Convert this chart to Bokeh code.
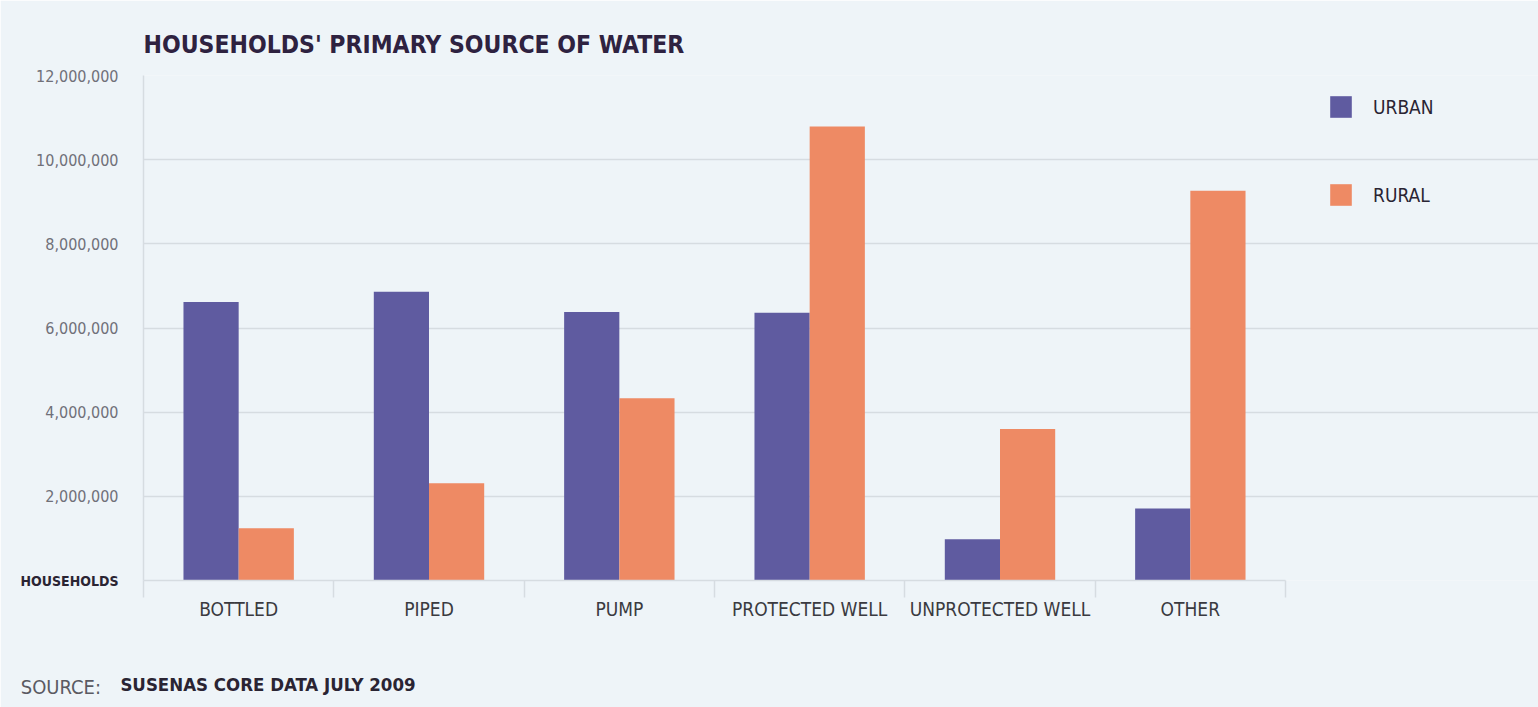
from bokeh.plotting import figure
from bokeh.models import (FixedTicker, NumeralTickFormatter, Legend, LegendItem, LinearAxis,
                          ColumnDataSource, Range1d)
from bokeh.embed import file_html
from bokeh.resources import INLINE

categories = ["BOTTLED", "PIPED", "PUMP", "PROTECTED WELL", "UNPROTECTED WELL", "OTHER"]
urban = [6620000, 6860000, 6380000, 6360000, 980000, 1710000]
rural = [1240000, 2310000, 4330000, 10790000, 3600000, 9260000]
y_ticks = [0, 2000000, 4000000, 6000000, 8000000, 10000000, 12000000]
series_names = ["URBAN", "RURAL"]
title_text = "HOUSEHOLDS' PRIMARY SOURCE OF WATER"
source_prefix = "SOURCE:"
source_text = "SUSENAS CORE DATA JULY 2009"
y_unit_label = "HOUSEHOLDS"

BG = "#EEF4F8"
URBAN_C = "#5F5BA0"
RURAL_C = "#EE8A64"
GRID = "#D6DCE1"
DARK = "#2A2433"
COND = "DejaVu Sans Condensed"

W, H = 1538, 707
LEFT, PLOT_RIGHT, TOP, BOTTOM = 143, 1285, 75, 580

n = len(categories)
unit_px = (PLOT_RIGHT - LEFT) / n
x_end = (W - LEFT) / unit_px          # frame runs to the right edge so the legend is not clipped
centers = [i + 0.5 for i in range(n)]
src = ColumnDataSource(dict(
    xu=[c - 0.145 for c in centers], xr=[c + 0.145 for c in centers],
    urban=urban, rural=rural))

p = figure(width=W, height=H, output_backend="svg", toolbar_location=None,
           x_range=Range1d(0, x_end), y_range=Range1d(0, 12000000),
           min_border_left=LEFT, min_border_right=0, min_border_top=TOP,
           min_border_bottom=H - BOTTOM)
p.background_fill_color = BG
p.border_fill_color = BG
p.outline_line_color = None

ru = p.vbar(x="xu", top="urban", width=0.29, source=src, fill_color=URBAN_C, line_color=None)
rr = p.vbar(x="xr", top="rural", width=0.29, source=src, fill_color=RURAL_C, line_color=None)

# title
p.title.text = title_text
p.title.align = "left"
p.title.text_font = COND
p.title.text_font_style = "bold"
p.title.text_font_size = "24.5px"
p.title.text_color = "#2E2240"
p.title.standoff = 34

# x axis
p.xaxis.bounds = (0, n)
p.xaxis.ticker = FixedTicker(ticks=centers, minor_ticks=list(range(n + 1)))
p.xaxis.major_label_overrides = {c: name for c, name in zip(centers, categories)}
p.xaxis.major_tick_line_color = None
p.xaxis.minor_tick_line_color = GRID
p.xaxis.minor_tick_line_width = 1.5
p.xaxis.minor_tick_in = 0
p.xaxis.minor_tick_out = 17
p.xaxis.axis_line_color = GRID
p.xaxis.axis_line_width = 1.5
p.xaxis.major_label_text_font = COND
p.xaxis.major_label_text_font_size = "19px"
p.xaxis.major_label_text_color = "#3A3A40"
p.xaxis.major_label_standoff = 0
p.xgrid.grid_line_color = None

# y axis
p.yaxis.ticker = FixedTicker(ticks=y_ticks)
p.yaxis.formatter = NumeralTickFormatter(format="0,0")
p.yaxis.major_label_overrides = {0: ""}
p.yaxis.major_tick_line_color = None
p.yaxis.major_tick_out = 0
p.yaxis.minor_tick_line_color = None
p.yaxis.axis_line_color = GRID
p.yaxis.axis_line_width = 1.5
p.yaxis.major_label_text_font = COND
p.yaxis.major_label_text_font_size = "16px"
p.yaxis.major_label_text_color = "#707078"
p.yaxis.major_label_standoff = 25
p.ygrid.grid_line_color = GRID
p.ygrid.grid_line_width = 1.5
p.ygrid.bounds = (0, n)

# bold unit label at zero (outer left axis)
unit_axis = LinearAxis(ticker=FixedTicker(ticks=[0]), major_label_overrides={0: y_unit_label},
                       axis_line_color=None, major_tick_line_color=None, major_tick_out=0,
                       minor_tick_line_color=None, major_label_standoff=-85,
                       major_label_text_font=COND, major_label_text_font_style="bold",
                       major_label_text_font_size="14px", major_label_text_color=DARK)
p.add_layout(unit_axis, "left")

legend = Legend(items=[LegendItem(label=series_names[0], renderers=[ru]),
                       LegendItem(label=series_names[1], renderers=[rr])],
                location=(1184, 372), glyph_width=27, glyph_height=27, spacing=61,
                label_standoff=19, padding=0, margin=0, border_line_color=None,
                background_fill_alpha=0, label_text_font=COND, label_text_font_size="19px",
                label_text_color=DARK)
p.add_layout(legend, "center")

# source line: bold part on an inner axis, prefix on an outer axis pulled up onto the same row
bold_center = (267.5 - LEFT) / unit_px
src_axis = LinearAxis(ticker=FixedTicker(ticks=[bold_center]),
                      major_label_overrides={bold_center: source_text},
                      axis_line_color=None, major_tick_line_color=None, major_tick_out=0,
                      minor_tick_line_color=None, major_label_standoff=51,
                      major_label_text_font=COND, major_label_text_font_style="bold",
                      major_label_text_font_size="18.5px", major_label_text_color=DARK)
p.add_layout(src_axis, "below")
# the prefix label is centred at the frame's left edge and padded on its right with
# no-break spaces so that its visible part starts near the left edge of the page
pre_tick = 0.001
pre_axis = LinearAxis(ticker=FixedTicker(ticks=[pre_tick]),
                      major_label_overrides={pre_tick: source_prefix + "\u00a0" * 29},
                      axis_line_color=None, major_tick_line_color=None, major_tick_out=0,
                      minor_tick_line_color=None, major_label_standoff=-23,
                      major_label_text_font=COND, major_label_text_font_style="normal",
                      major_label_text_font_size="20px", major_label_text_color="#5A5A62")
p.add_layout(pre_axis, "below")

open("out.html", "w").write(file_html(p, INLINE))
